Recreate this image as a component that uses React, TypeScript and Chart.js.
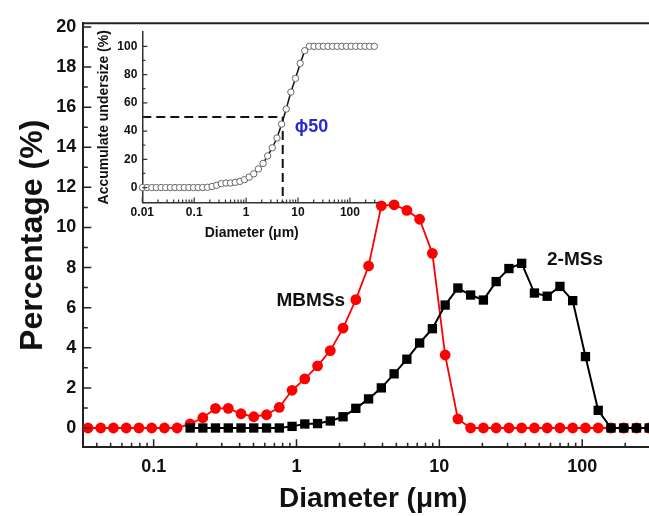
import React, { useEffect, useRef } from 'react';
import { Chart, registerables } from 'chart.js';

Chart.register(...registerables);

const FONT = '"Liberation Sans", Arial, Helvetica, sans-serif';

// ---------- main chart data ----------
const diameters = [
  0.0347, 0.0426, 0.0523, 0.0643, 0.0789, 0.0969, 0.119, 0.146, 0.18, 0.221,
  0.271, 0.333, 0.409, 0.502, 0.617, 0.758, 0.931, 1.143, 1.404, 1.725,
  2.118, 2.602, 3.196, 3.926, 4.823, 5.924, 7.278, 8.936, 10.98, 13.48,
  16.56, 20.34, 24.99, 30.69, 37.7, 46.3, 56.87, 69.85, 85.79, 105.4,
  129.4, 159.0, 195.3, 239.8, 294.6,
];

const mbmss = [
  0, 0, 0, 0, 0, 0, 0, 0, 0.2, 0.51,
  0.98, 0.98, 0.71, 0.56, 0.66, 1.03, 1.88, 2.45, 3.1, 3.86,
  4.98, 6.4, 8.08, 11.08, 11.13, 10.85, 10.41, 8.71, 3.64, 0.45,
  0, 0, 0, 0, 0, 0, 0, 0, 0, 0,
  0, 0, 0, 0, 0,
];

const twoMss = [
  null, null, null, null, null, null, null, null, 0, 0,
  0, 0, 0, 0, 0, 0, 0.08, 0.2, 0.22, 0.35,
  0.56, 0.98, 1.45, 2.0, 2.7, 3.43, 4.24, 4.95, 6.13, 6.98,
  6.63, 6.38, 7.3, 7.95, 8.21, 6.73, 6.57, 7.06, 6.35, 3.56,
  0.88, 0, 0, 0, 0,
];

const xTickValues = [0.1, 1, 10, 100];
const yTickValues = [0, 2, 4, 6, 8, 10, 12, 14, 16, 18, 20];

const labelMbmss = { text: 'MBMSs', x: 1.26, y: 6.33 };
const label2Mss = { text: '2-MSs', x: 89, y: 8.38 };

// ---------- inset data ----------
const insetLowDiameters = [0.0101, 0.0124, 0.0152, 0.0187, 0.023, 0.0282];
const insetDiameters = [...insetLowDiameters, ...diameters];
const cumulative = [
  0, 0, 0, 0, 0, 0, 0, 0, 0, 0,
  0, 0, 0, 0, 0.2, 0.8, 1.6, 2.8, 3.2, 3.2,
  3.7, 4.4, 5.6, 7.4, 9.7, 13.2, 17.1, 22.4, 28.2, 35.1,
  44.9, 55.6, 67.6, 77.3, 87.9, 96.9, 100, 100, 100, 100,
  100, 100, 100, 100, 100, 100, 100, 100, 100, 100,
  100,
];
const D50 = 5.07;
const insetXTickValues = [0.01, 0.1, 1, 10, 100];
const insetYTickValues = [0, 20, 40, 60, 80, 100];

function logMinors(min: number, max: number): number[] {
  const out: number[] = [];
  for (let e = Math.floor(Math.log10(min)); e <= Math.ceil(Math.log10(max)); e++) {
    for (let m = 2; m <= 9; m++) {
      const v = m * Math.pow(10, e);
      if (v > min && v < max) out.push(v);
    }
  }
  return out;
}

type DecorOpts = {
  id: string;
  xMajor: number[];
  xMinor: number[];
  yMajor: number[];
  yMinor: number[];
  majorLen: number;
  minorLen: number;
  tickWidth: number;
  color: string;
  extra?: (chart: any) => void;
};

function makeDecor(o: DecorOpts) {
  return {
    id: o.id,
    afterDraw(chart: any) {
      const { ctx, chartArea } = chart;
      const xs = chart.scales.x;
      const ys = chart.scales.y;
      ctx.save();
      ctx.strokeStyle = o.color;
      ctx.lineWidth = o.tickWidth;
      ctx.beginPath();
      const xt = (v: number, len: number) => {
        const p = xs.getPixelForValue(v);
        if (p < chartArea.left - 0.5 || p > chartArea.right + 0.5) return;
        ctx.moveTo(p, chartArea.bottom);
        ctx.lineTo(p, chartArea.bottom - len);
      };
      const yt = (v: number, len: number) => {
        const p = ys.getPixelForValue(v);
        if (p < chartArea.top - 0.5 || p > chartArea.bottom + 0.5) return;
        ctx.moveTo(chartArea.left, p);
        ctx.lineTo(chartArea.left + len, p);
      };
      o.xMajor.forEach((v) => xt(v, o.majorLen));
      o.xMinor.forEach((v) => xt(v, o.minorLen));
      o.yMajor.forEach((v) => yt(v, o.majorLen));
      o.yMinor.forEach((v) => yt(v, o.minorLen));
      ctx.stroke();
      if (o.extra) o.extra(chart);
      ctx.restore();
    },
  };
}

const MAIN_X_MIN = 0.03218;
const MAIN_X_MAX = 367.8;
const MAIN_Y_MIN = -0.963;
const MAIN_Y_MAX = 20.18;

const INSET_X_MIN = 0.01;
const INSET_X_MAX = 332;
const INSET_Y_MIN = -10.5;
const INSET_Y_MAX = 110;

function MainChart() {
  const ref = useRef<HTMLCanvasElement>(null);
  useEffect(() => {
    const decor = makeDecor({
      id: 'mainDecor',
      xMajor: xTickValues,
      xMinor: logMinors(MAIN_X_MIN, MAIN_X_MAX),
      yMajor: yTickValues,
      yMinor: yTickValues.map((v) => v + 1).filter((v) => v < MAIN_Y_MAX),
      majorLen: 8,
      minorLen: 4.5,
      tickWidth: 1.5,
      color: '#222',
      extra: (chart: any) => {
        const { ctx, chartArea } = chart;
        const xs = chart.scales.x;
        const ys = chart.scales.y;
        // top frame line
        ctx.strokeStyle = '#222';
        ctx.lineWidth = 2;
        ctx.beginPath();
        ctx.moveTo(chartArea.left - 1, chartArea.top);
        ctx.lineTo(chart.width, chartArea.top);
        ctx.stroke();
        ctx.fillStyle = '#111';
        ctx.font = `bold 19px ${FONT}`;
        ctx.textAlign = 'center';
        ctx.textBaseline = 'middle';
        for (const l of [labelMbmss, label2Mss]) {
          ctx.fillText(l.text, xs.getPixelForValue(l.x), ys.getPixelForValue(l.y));
        }
      },
    });
    const chart = new Chart(ref.current as HTMLCanvasElement, {
      type: 'line',
      data: {
        datasets: [
          {
            label: '2-MSs',
            data: diameters.map((d, i) => ({ x: d, y: twoMss[i] })),
            borderColor: '#000',
            backgroundColor: '#000',
            pointBackgroundColor: '#000',
            pointBorderColor: '#000',
            pointBorderWidth: 0,
            borderWidth: 2,
            pointStyle: 'rect',
            pointRadius: 6.6,
            spanGaps: false,
            clip: false,
          } as any,
          {
            label: 'MBMSs',
            data: diameters.map((d, i) => ({ x: d, y: mbmss[i] })),
            borderColor: '#ff0000',
            backgroundColor: '#ff0000',
            pointBackgroundColor: '#ff0000',
            pointBorderColor: '#ff0000',
            pointBorderWidth: 0,
            borderWidth: 1.8,
            pointStyle: 'circle',
            pointRadius: 5.4,
            clip: false,
          } as any,
        ],
      },
      options: {
        animation: false,
        responsive: false,
        maintainAspectRatio: false,
        layout: { padding: { top: 23.3, right: 7, left: 0, bottom: 0 } },
        plugins: { legend: { display: false }, tooltip: { enabled: false } },
        scales: {
          x: {
            type: 'logarithmic',
            min: MAIN_X_MIN,
            max: MAIN_X_MAX,
            afterBuildTicks: (ax: any) => {
              ax.ticks = xTickValues.map((v) => ({ value: v }));
            },
            afterFit: (s: any) => {
              s.height = 68.7;
            },
            grid: { display: false, drawTicks: false },
            border: { display: true, color: '#222', width: 2 },
            ticks: {
              padding: 9,
              autoSkip: false,
              maxRotation: 0,
              color: '#111',
              font: { family: FONT, size: 18, weight: 'bold' },
              callback: (v: any) => String(v),
            },
            title: {
              display: true,
              text: 'Diameter (μm)',
              color: '#111',
              font: { family: FONT, size: 28, weight: 'bold' },
              padding: { top: 0, bottom: 0 },
            },
          } as any,
          y: {
            type: 'linear',
            min: MAIN_Y_MIN,
            max: MAIN_Y_MAX,
            afterBuildTicks: (ax: any) => {
              ax.ticks = yTickValues.map((v) => ({ value: v }));
            },
            afterFit: (s: any) => {
              s.width = 83.3;
            },
            grid: { display: false, drawTicks: false },
            border: { display: true, color: '#222', width: 2 },
            ticks: {
              padding: 7,
              color: '#111',
              font: { family: FONT, size: 18, weight: 'bold' },
              callback: (v: any) => String(v),
            },
            title: {
              display: true,
              text: 'Percentage (%)',
              color: '#111',
              font: { family: FONT, size: 32, weight: 'bold' },
              padding: { top: 14, bottom: 0 },
            },
          } as any,
        },
      },
      plugins: [decor],
    });
    return () => chart.destroy();
  }, []);
  return (
    <canvas
      ref={ref}
      width={670}
      height={516}
      style={{ position: 'absolute', left: 0, top: 0, width: 670, height: 516 }}
    />
  );
}

function InsetChart() {
  const ref = useRef<HTMLCanvasElement>(null);
  useEffect(() => {
    const decor = makeDecor({
      id: 'insetDecor',
      xMajor: insetXTickValues,
      xMinor: logMinors(INSET_X_MIN, INSET_X_MAX),
      yMajor: insetYTickValues,
      yMinor: insetYTickValues.map((v) => v + 10).filter((v) => v < INSET_Y_MAX),
      majorLen: 5,
      minorLen: 3,
      tickWidth: 1.2,
      color: '#333',
      extra: (chart: any) => {
        const { ctx } = chart;
        const xs = chart.scales.x;
        const ys = chart.scales.y;
        ctx.fillStyle = '#2a2ad0';
        ctx.font = `bold 18px ${FONT}`;
        ctx.textAlign = 'left';
        ctx.textBaseline = 'middle';
        ctx.fillText('ϕ50', xs.getPixelForValue(D50) + 12, ys.getPixelForValue(43));
        ctx.fillStyle = '#111';
        ctx.font = `bold 14px ${FONT}`;
        ctx.textAlign = 'center';
        ctx.fillText('Diameter (μm)', 159.7, 213);
      },
    });
    const chart = new Chart(ref.current as HTMLCanvasElement, {
      type: 'line',
      data: {
        datasets: [
          {
            label: 'Accumulate undersize',
            data: insetDiameters.map((d, i) => ({ x: d, y: cumulative[i] })),
            borderColor: '#111',
            borderWidth: 1.5,
            pointStyle: 'circle',
            pointRadius: 3.2,
            pointBackgroundColor: '#fff',
            pointBorderColor: '#666',
            pointBorderWidth: 1,
            clip: false,
          } as any,
          {
            label: 'd50 h',
            data: [
              { x: INSET_X_MIN, y: 50 },
              { x: D50, y: 50 },
            ],
            borderColor: '#111',
            borderWidth: 2,
            borderDash: [9, 5],
            pointRadius: 0,
          } as any,
          {
            label: 'd50 v',
            data: [
              { x: D50, y: 50 },
              { x: D50, y: INSET_Y_MIN },
            ],
            borderColor: '#111',
            borderWidth: 2,
            borderDash: [9, 5],
            pointRadius: 0,
          } as any,
        ],
      },
      options: {
        animation: false,
        responsive: false,
        maintainAspectRatio: false,
        layout: { padding: { top: 8.9, right: 15, left: 0, bottom: 0 } },
        plugins: { legend: { display: false }, tooltip: { enabled: false } },
        scales: {
          x: {
            type: 'logarithmic',
            min: INSET_X_MIN,
            max: INSET_X_MAX,
            afterBuildTicks: (ax: any) => {
              ax.ticks = insetXTickValues.map((v) => ({ value: v }));
            },
            afterFit: (s: any) => {
              s.height = 47.6;
            },
            grid: { display: false, drawTicks: false },
            border: { display: true, color: '#333', width: 1.5 },
            ticks: {
              padding: 3.4,
              autoSkip: false,
              maxRotation: 0,
              color: '#111',
              font: { family: FONT, size: 12, weight: 'bold' },
              callback: (v: any) => String(v),
            },
            title: { display: false },
          } as any,
          y: {
            type: 'linear',
            min: INSET_Y_MIN,
            max: INSET_Y_MAX,
            afterBuildTicks: (ax: any) => {
              ax.ticks = insetYTickValues.map((v) => ({ value: v }));
            },
            afterFit: (s: any) => {
              s.width = 50.3;
            },
            grid: { display: false, drawTicks: false },
            border: { display: true, color: '#333', width: 1.5 },
            ticks: {
              padding: 5,
              color: '#111',
              font: { family: FONT, size: 12, weight: 'bold' },
              callback: (v: any) => String(v),
            },
            title: {
              display: true,
              text: 'Accumulate undersize (%)',
              color: '#111',
              font: { family: FONT, size: 14, weight: 'bold' },
              padding: { top: 3.6, bottom: 0 },
            },
          } as any,
        },
      },
      plugins: [decor],
    });
    return () => chart.destroy();
  }, []);
  return (
    <canvas
      ref={ref}
      width={300}
      height={230}
      style={{ position: 'absolute', left: 92, top: 20, width: 300, height: 230 }}
    />
  );
}

export default function App() {
  return (
    <div
      style={{
        position: 'fixed',
        left: 0,
        top: 0,
        width: 649,
        height: 516,
        overflow: 'hidden',
        background: '#fff',
      }}
    >
      <MainChart />
      <InsetChart />
    </div>
  );
}
